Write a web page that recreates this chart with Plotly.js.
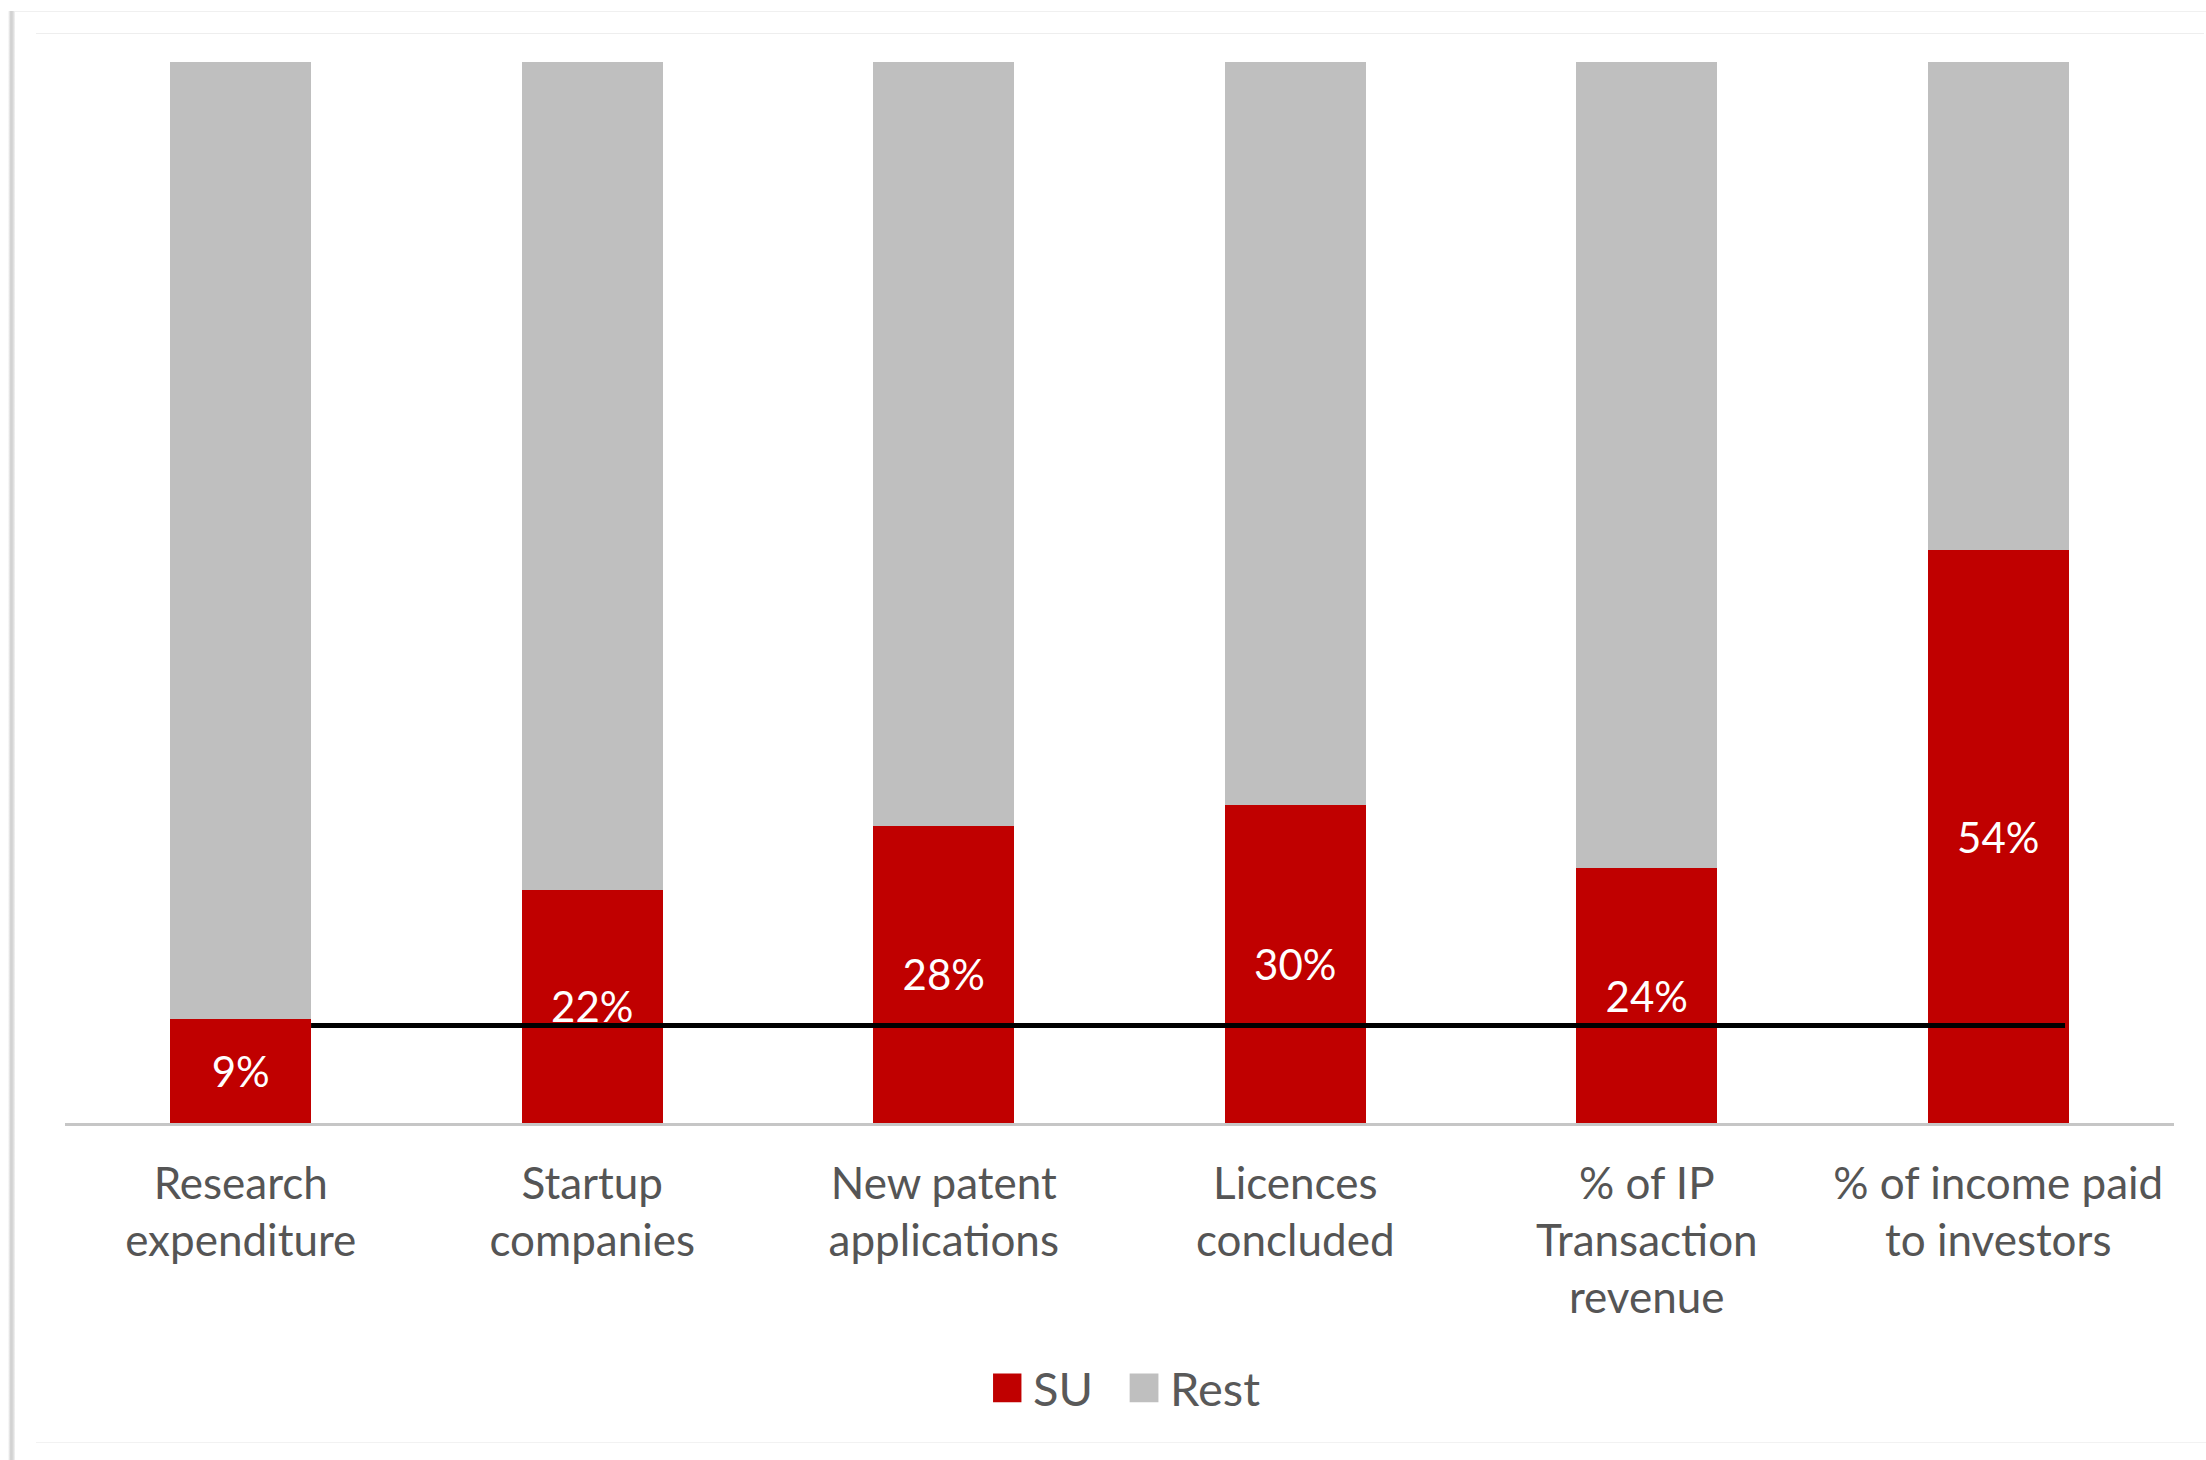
<!DOCTYPE html>
<html>
<head>
<meta charset="utf-8">
<script src="https://cdn.plot.ly/plotly-3.0.1.min.js"></script>
<style>
  html, body { margin: 0; padding: 0; background: #ffffff; }
  #wrap { position: relative; width: 2206px; height: 1460px; overflow: hidden; background: #fff; }
  #shadow { position: absolute; left: 8px; top: 11px; width: 7px; height: 1460px;
            background: linear-gradient(to right, #ffffff, #cfcfcf 40%, #d8d8d8 70%, #f4f4f4); }
  #topline { position: absolute; left: 15px; top: 11px; width: 2191px; height: 1px; background: #f0f0f0; }
  #topline2 { position: absolute; left: 36px; top: 33px; width: 2168px; height: 1px; background: #eeeeee; }
  #botline { position: absolute; left: 36px; top: 1442px; width: 2170px; height: 1px; background: #f2f2f2; }
  #chart { position: absolute; left: 0; top: 0; width: 2206px; height: 1460px; }
</style>
</head>
<body>
<div id="wrap">
  <div id="chart"></div>
  <div id="shadow"></div>
  <div id="topline"></div>
  <div id="topline2"></div>
  <div id="botline"></div>
</div>
<script>
// ---- data ----
const categories = [
  "Research<br>expenditure",
  "Startup<br>companies",
  "New patent<br>applications",
  "Licences<br>concluded",
  "% of IP<br>Transaction<br>revenue",
  "% of income paid<br>to investors"
];
const suValues = [9.8, 22, 28, 30, 24, 54];
const suLabels = ["9%", "22%", "28%", "30%", "24%", "54%"];
const restValues = [90.2, 78, 72, 70, 76, 46];
const seriesNames = ["SU", "Rest"];
const refLineValue = 9.2;
const refLineStart = 0.2;
const refLineEnd = 5.19;

// ---- chart ----
const traces = [
  {
    type: "bar",
    name: seriesNames[0],
    x: categories,
    y: suValues,
    text: suLabels,
    textposition: "inside",
    insidetextanchor: "middle",
    textangle: 0,
    constraintext: "none",
    textfont: { family: "Lato, sans-serif", size: 42, color: "#ffffff" },
    marker: { color: "#C00000" },
    hoverinfo: "skip"
  },
  {
    type: "bar",
    name: seriesNames[1],
    x: categories,
    y: restValues,
    textposition: "none",
    marker: { color: "#BFBFBF" },
    hoverinfo: "skip"
  }
];

const layout = {
  width: 2206,
  height: 1460,
  paper_bgcolor: "rgba(0,0,0,0)",
  plot_bgcolor: "rgba(0,0,0,0)",
  margin: { l: 65, r: 32, t: 62, b: 337 },
  barmode: "stack",
  bargap: 0.6,
  showlegend: true,
  legend: {
    orientation: "h",
    traceorder: "normal",
    x: 0.505,
    xanchor: "center",
    y: -0.25,
    yanchor: "middle",
    font: { family: "Lato, sans-serif", size: 47, color: "#595959" },
    entrywidth: 92,
    entrywidthmode: "pixels"
  },
  xaxis: {
    type: "category",
    showline: true,
    linecolor: "#C6C6C6",
    linewidth: 3,
    ticks: "",
    showgrid: false,
    zeroline: false,
    tickfont: { family: "Lato, sans-serif", size: 44, color: "#555555" },
    ticklabelstandoff: 20
  },
  yaxis: {
    range: [0, 100],
    showticklabels: false,
    showgrid: false,
    zeroline: false,
    showline: false,
    ticks: ""
  },
  shapes: [
    {
      type: "line",
      xref: "x",
      yref: "y",
      x0: refLineStart,
      x1: refLineEnd,
      y0: refLineValue,
      y1: refLineValue,
      line: { color: "#000000", width: 5 },
      layer: "above"
    }
  ]
};

Plotly.newPlot("chart", traces, layout, { displayModeBar: false, staticPlot: true }).then(function () {
  document.querySelectorAll(".legend .legendpoints path").forEach(function (p) {
    const t = p.getAttribute("transform") || "";
    p.setAttribute("transform", t + " translate(-6,0) scale(2.4)");
  });
});
</script>
</body>
</html>
